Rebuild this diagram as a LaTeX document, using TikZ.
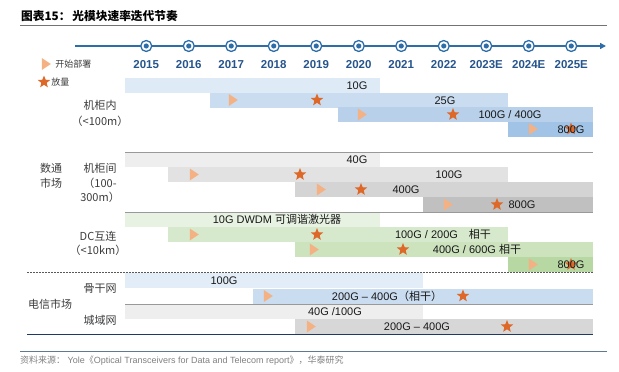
\documentclass[tikz,border=0pt]{standalone}
\usepackage{fontspec}
\setmainfont{Liberation Sans}
\newfontfamily\cjk{Noto Sans CJK SC}
\usepackage{tikz}
\usetikzlibrary{shapes.geometric,arrows.meta,positioning}
\definecolor{lineblue}{RGB}{46,110,168}
\definecolor{yearblue}{RGB}{38,84,140}
\definecolor{startc}{RGB}{244,177,131}
\definecolor{starc}{RGB}{222,104,40}
\definecolor{blueA}{RGB}{222,234,246}
\definecolor{blueB}{RGB}{202,220,240}
\definecolor{blueC}{RGB}{184,208,234}
\definecolor{blueD}{RGB}{160,195,230}
\definecolor{grayA}{RGB}{238,238,238}
\definecolor{grayB}{RGB}{226,226,226}
\definecolor{grayC}{RGB}{212,212,212}
\definecolor{grayD}{RGB}{192,192,192}
\definecolor{greenA}{RGB}{232,242,226}
\definecolor{greenB}{RGB}{215,233,204}
\definecolor{greenC}{RGB}{204,227,190}
\definecolor{greenD}{RGB}{183,215,163}
\definecolor{navy}{RGB}{31,56,100}
\definecolor{lbltext}{RGB}{60,60,60}
\definecolor{valtext}{RGB}{25,25,25}

\begin{document}
\begin{tikzpicture}[x=1pt, y=-1pt]
    \tikzstyle{bar} = [rectangle, inner sep=0pt, minimum height=15pt, anchor=west]
    \tikzstyle{val} = [inner sep=0pt, text height=8pt, text depth=0pt, font=\fontsize{11}{13}\selectfont, text=valtext]
    \tikzstyle{yr} = [inner sep=0pt, text height=8pt, text depth=0pt, font=\bfseries\fontsize{11.5}{13}\selectfont, text=yearblue]
    \tikzstyle{tick} = [circle, draw=lineblue, line width=1.3pt, fill=white, minimum size=11pt, inner sep=0pt, path picture={\fill[lineblue] (path picture bounding box.center) circle (2.6pt);}]
    \tikzstyle{deploy} = [isosceles triangle, isosceles triangle apex angle=70, isosceles triangle stretches, fill=startc, inner sep=0pt, minimum width=12pt, minimum height=9pt]
    \tikzstyle{spread} = [star, star points=5, star point ratio=2.3, fill=starc, inner sep=0pt, minimum size=13pt]
    \tikzstyle{rowlbl} = [inner sep=0pt, align=center, font=\cjk\fontsize{11}{14.5}\selectfont, text=lbltext]
    \tikzstyle{legend} = [inner sep=0pt, font=\cjk\fontsize{9}{11}\selectfont, text=lbltext]
    \tikzstyle{sep} = [line width=0.8pt, black!40]

    \useasboundingbox (0,0) rectangle (619,372);

    % title
    \node[anchor=west, inner sep=0pt, font=\cjk\bfseries\fontsize{11.7}{13}\selectfont] (title) at (21,16) {图表15：\,光模块速率迭代节奏};
    \coordinate (ttl0) at (20,25.5);
    \coordinate (ttl1) at (607,25.5);
    \draw[line width=0.8pt, black!55] (ttl0) -- (ttl1);

    % timeline
    \coordinate (tl0) at (75,46);
    \coordinate (tl1) at (606,46);
    \draw[-{Triangle[length=6pt,width=6pt]}, line width=1.4pt, lineblue] (tl0) -- (tl1);
    \node[tick] (c15) at (146.25,46) {};
    \node[tick] (c16) at (188.75,46) {};
    \node[tick] (c17) at (231.25,46) {};
    \node[tick] (c18) at (273.75,46) {};
    \node[tick] (c19) at (316.25,46) {};
    \node[tick] (c20) at (358.75,46) {};
    \node[tick] (c21) at (401.25,46) {};
    \node[tick] (c22) at (443.75,46) {};
    \node[tick] (c23) at (486.25,46) {};
    \node[tick] (c24) at (528.75,46) {};
    \node[tick] (c25) at (571.25,46) {};
    \node[yr] (y15) at (146.25,64) {2015};
    \node[yr] (y16) at (188.75,64) {2016};
    \node[yr] (y17) at (231.25,64) {2017};
    \node[yr] (y18) at (273.75,64) {2018};
    \node[yr] (y19) at (316.25,64) {2019};
    \node[yr] (y20) at (358.75,64) {2020};
    \node[yr] (y21) at (401.25,64) {2021};
    \node[yr] (y22) at (443.75,64) {2022};
    \node[yr] (y23) at (486.25,64) {2023E};
    \node[yr] (y24) at (528.75,64) {2024E};
    \node[yr] (y25) at (571.25,64) {2025E};

    % legend
    \node[deploy] (lgtri) at (45,64) {};
    \node[legend, right=4pt of lgtri] (lgtritxt) {开始部署};
    \node[spread] (lgstar) at (44,82) {};
    \node[legend, right=3pt of lgstar] (lgstartxt) {放量};

    % bars: intra-rack
    \node[bar, fill=blueA, minimum width=255pt] (dc10g) at (125,85) {};
    \node[bar, fill=blueB, minimum width=297.5pt] (dc25g) at (210,100) {};
    \node[bar, fill=blueC, minimum width=255pt] (dc100g) at (337.5,114.5) {};
    \node[bar, fill=blueD, minimum width=85pt] (dc800g) at (507.5,129) {};
    % bars: inter-rack
    \node[bar, fill=grayA, minimum width=255pt] (ir40g) at (125,159.5) {};
    \node[bar, fill=grayB, minimum width=340pt] (ir100g) at (167.5,174.5) {};
    \node[bar, fill=grayC, minimum width=297.5pt] (ir400g) at (295,189.5) {};
    \node[bar, fill=grayD, minimum width=170pt] (ir800g) at (422.5,204.5) {};
    % bars: DCI
    \node[bar, fill=greenA, minimum width=255pt] (dci10g) at (125,219.5) {};
    \node[bar, fill=greenB, minimum width=340pt] (dci200g) at (167.5,234.5) {};
    \node[bar, fill=greenC, minimum width=297.5pt] (dci600g) at (295,249.5) {};
    \node[bar, fill=greenD, minimum width=85pt] (dci800g) at (507.5,264.5) {};
    % bars: telecom
    \node[bar, fill=blueA!85, minimum width=297.5pt] (bb100g) at (125,280.5) {};
    \node[bar, fill=blueB, minimum width=340pt] (bb400g) at (252.5,296) {};
    \node[bar, fill=grayA, minimum width=297.5pt] (mn100g) at (125,311.5) {};
    \node[bar, fill=grayB!95!black, minimum width=297.5pt] (mn400g) at (295,326.5) {};

    % separators
    \coordinate (g0) at (125,152);
    \coordinate (g1) at (592.5,152);
    \coordinate (h0) at (125,212.5);
    \coordinate (h1) at (592.5,212.5);
    \coordinate (k0) at (125,304);
    \coordinate (k1) at (592.5,304);
    \coordinate (d0) at (27,272.5);
    \coordinate (d1) at (592.5,272.5);
    \coordinate (n0) at (27,334.5);
    \coordinate (n1) at (592.5,334.5);
    \coordinate (f0) at (20,351);
    \coordinate (f1) at (607,351);
    \draw[sep] (g0) -- (g1);
    \draw[sep] (h0) -- (h1);
    \draw[sep] (k0) -- (k1);
    \draw[line width=0.6pt, black!65, dash pattern=on 2pt off 1pt] (d0) -- (d1);
    \draw[line width=1.2pt, navy] (n0) -- (n1);
    \draw[line width=0.8pt, lineblue!40!gray] (f0) -- (f1);

    % markers
    \node[deploy] (t25g) at (232,100) {};
    \node[spread] (s25g) at (317,100) {};
    \node[deploy] (t100g) at (361,114.5) {};
    \node[spread] (s100g) at (453,114.5) {};
    \node[deploy] (t800g) at (532,129) {};
    \node[spread] (s800g) at (571,129) {};
    \node[deploy] (u100g) at (193,174.5) {};
    \node[spread] (r100g) at (300,174.5) {};
    \node[deploy] (u400g) at (320,189.5) {};
    \node[spread] (r400g) at (361,189.5) {};
    \node[deploy] (u800g) at (447,204.5) {};
    \node[spread] (r800g) at (497,204.5) {};
    \node[deploy] (e200g) at (193,234.5) {};
    \node[spread] (q200g) at (317,234.5) {};
    \node[deploy] (e600g) at (313,249.5) {};
    \node[spread] (q600g) at (403,249.5) {};
    \node[deploy] (e800g) at (532,264.5) {};
    \node[spread] (q800g) at (571,264.5) {};
    \node[deploy] (tbb) at (267,296) {};
    \node[spread] (sbb) at (463,296) {};
    \node[deploy] (tmn) at (310,326.5) {};
    \node[spread] (smn) at (507,326.5) {};

    % values
    \node[val] (v10g) at (357,85) {10G};
    \node[val] (v25g) at (445,100) {25G};
    \node[val] (v100g) at (510,114.5) {100G / 400G};
    \node[val] (v800g) at (571,129) {800G};
    \node[val] (w40g) at (357,159.5) {40G};
    \node[val] (w100g) at (449,174.5) {100G};
    \node[val] (w400g) at (406,189.5) {400G};
    \node[val] (w800g) at (522,204.5) {800G};
    \node[val] (x10g) at (277,219.5) {10G DWDM {\cjk 可调谐激光器}};
    \node[val] (x200g) at (443,234.5) {100G / 200G\quad{\cjk 相干}};
    \node[val] (x600g) at (477,249.5) {400G / 600G\ {\cjk 相干}};
    \node[val] (x800g) at (571,264.5) {800G};
    \node[val] (b100g) at (224,280.5) {100G};
    \node[val] (b400g) at (387,296) {200G – 400G{\cjk （相干）}};
    \node[val] (m100g) at (335,311.5) {40G /100G};
    \node[val] (m400g) at (417,326.5) {200G – 400G};

    % row labels
    \node[rowlbl] (cab) at (100,105) {机柜内};
    \node[rowlbl] (cab2) at (100,121) {（<100m）};
    \node[rowlbl] (dcm) at (51,176) {数通\\市场};
    \node[rowlbl] (ir) at (100,183) {机柜间\\（100-\\300m）};
    \node[rowlbl] (dci) at (98,243.5) {DC互连\\（<10km）};
    \node[rowlbl] (tel) at (50,304) {电信市场};
    \node[rowlbl] (bb) at (100,289) {骨干网};
    \node[rowlbl] (mn) at (100,320) {城域网};

    % source
    \node[anchor=west, inner sep=0pt, font=\fontsize{9}{11}\selectfont, text=black!50] (src) at (20,361) {{\cjk 资料来源：}\ Yole{\cjk 《}Optical Transceivers for Data and Telecom report{\cjk 》，华泰研究}};
\end{tikzpicture}
\end{document}
